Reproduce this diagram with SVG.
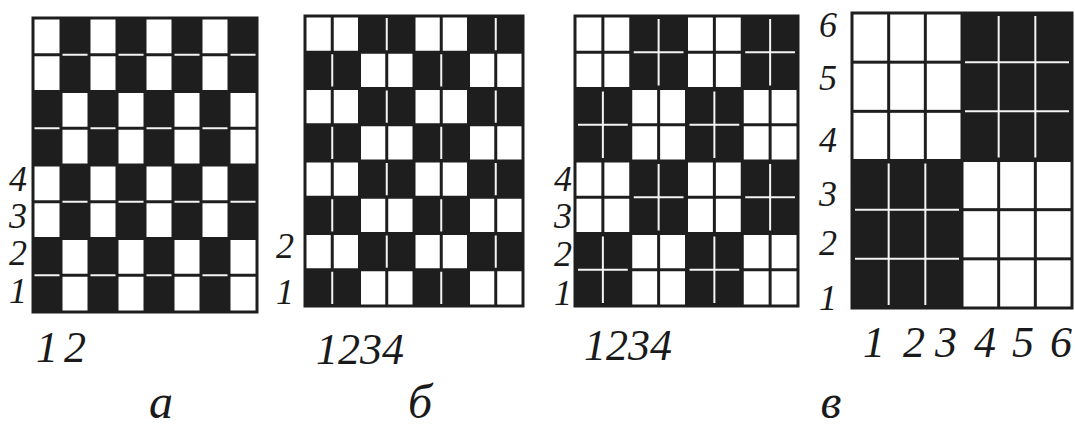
<svg xmlns="http://www.w3.org/2000/svg" width="1075" height="430" viewBox="0 0 1075 430">
<style>
.bg{fill:#1e1e1e;stroke:#1e1e1e;stroke-width:3}
.w{fill:#ffffff}
.wl{fill:none;stroke:#f4f4f4;stroke-width:2}
text{font-family:"Liberation Serif","Times New Roman",serif;font-style:italic;fill:#1a1a1a}
.n{font-size:44px}
.s{font-size:36px;text-anchor:middle}
.m{font-size:44px;text-anchor:middle}
.cap{font-size:48px;text-anchor:middle}
</style>
<rect width="1075" height="430" fill="#ffffff"/>

<g id="panel-a">
<rect class="bg" x="33" y="18" width="224" height="294"/>
<g id="a-cells">
<rect class="w" x="34.5" y="19.5" width="25" height="33.75"/><rect class="w" x="90.5" y="19.5" width="25" height="33.75"/><rect class="w" x="146.5" y="19.5" width="25" height="33.75"/><rect class="w" x="202.5" y="19.5" width="25" height="33.75"/>
<rect class="w" x="34.5" y="56.25" width="25" height="33.75"/><rect class="w" x="90.5" y="56.25" width="25" height="33.75"/><rect class="w" x="146.5" y="56.25" width="25" height="33.75"/><rect class="w" x="202.5" y="56.25" width="25" height="33.75"/>
<rect class="w" x="62.5" y="93" width="25" height="33.75"/><rect class="w" x="118.5" y="93" width="25" height="33.75"/><rect class="w" x="174.5" y="93" width="25" height="33.75"/><rect class="w" x="230.5" y="93" width="25" height="33.75"/>
<rect class="w" x="62.5" y="129.75" width="25" height="33.75"/><rect class="w" x="118.5" y="129.75" width="25" height="33.75"/><rect class="w" x="174.5" y="129.75" width="25" height="33.75"/><rect class="w" x="230.5" y="129.75" width="25" height="33.75"/>
<rect class="w" x="34.5" y="166.5" width="25" height="33.75"/><rect class="w" x="90.5" y="166.5" width="25" height="33.75"/><rect class="w" x="146.5" y="166.5" width="25" height="33.75"/><rect class="w" x="202.5" y="166.5" width="25" height="33.75"/>
<rect class="w" x="34.5" y="203.25" width="25" height="33.75"/><rect class="w" x="90.5" y="203.25" width="25" height="33.75"/><rect class="w" x="146.5" y="203.25" width="25" height="33.75"/><rect class="w" x="202.5" y="203.25" width="25" height="33.75"/>
<rect class="w" x="62.5" y="240" width="25" height="33.75"/><rect class="w" x="118.5" y="240" width="25" height="33.75"/><rect class="w" x="174.5" y="240" width="25" height="33.75"/><rect class="w" x="230.5" y="240" width="25" height="33.75"/>
<rect class="w" x="62.5" y="276.75" width="25" height="33.75"/><rect class="w" x="118.5" y="276.75" width="25" height="33.75"/><rect class="w" x="174.5" y="276.75" width="25" height="33.75"/><rect class="w" x="230.5" y="276.75" width="25" height="33.75"/>
</g>
<path class="wl" d="M62.5 54.75H87.5M118.5 54.75H143.5M174.5 54.75H199.5M230.5 54.75H255.5M34.5 128.25H59.5M90.5 128.25H115.5M146.5 128.25H171.5M202.5 128.25H227.5M62.5 201.75H87.5M118.5 201.75H143.5M174.5 201.75H199.5M230.5 201.75H255.5M34.5 275.25H59.5M90.5 275.25H115.5M146.5 275.25H171.5M202.5 275.25H227.5"/>
<text class="s" x="18" y="191">4</text>
<text class="s" x="18" y="228">3</text>
<text class="s" x="18" y="265">2</text>
<text class="s" x="18" y="303">1</text>
<text class="m" x="47" y="362">1</text>
<text class="m" x="75" y="362">2</text>
<text class="cap" x="161" y="418">a</text>
</g>

<g id="panel-b">
<rect class="bg" x="305" y="16" width="218" height="290"/>
<g id="b-cells">
<rect class="w" x="306.5" y="17.5" width="24.25" height="33.25"/><rect class="w" x="333.75" y="17.5" width="24.25" height="33.25"/><rect class="w" x="415.5" y="17.5" width="24.25" height="33.25"/><rect class="w" x="442.75" y="17.5" width="24.25" height="33.25"/>
<rect class="w" x="361" y="53.75" width="24.25" height="33.25"/><rect class="w" x="388.25" y="53.75" width="24.25" height="33.25"/><rect class="w" x="470" y="53.75" width="24.25" height="33.25"/><rect class="w" x="497.25" y="53.75" width="24.25" height="33.25"/>
<rect class="w" x="306.5" y="90" width="24.25" height="33.25"/><rect class="w" x="333.75" y="90" width="24.25" height="33.25"/><rect class="w" x="415.5" y="90" width="24.25" height="33.25"/><rect class="w" x="442.75" y="90" width="24.25" height="33.25"/>
<rect class="w" x="361" y="126.25" width="24.25" height="33.25"/><rect class="w" x="388.25" y="126.25" width="24.25" height="33.25"/><rect class="w" x="470" y="126.25" width="24.25" height="33.25"/><rect class="w" x="497.25" y="126.25" width="24.25" height="33.25"/>
<rect class="w" x="306.5" y="162.5" width="24.25" height="33.25"/><rect class="w" x="333.75" y="162.5" width="24.25" height="33.25"/><rect class="w" x="415.5" y="162.5" width="24.25" height="33.25"/><rect class="w" x="442.75" y="162.5" width="24.25" height="33.25"/>
<rect class="w" x="361" y="198.75" width="24.25" height="33.25"/><rect class="w" x="388.25" y="198.75" width="24.25" height="33.25"/><rect class="w" x="470" y="198.75" width="24.25" height="33.25"/><rect class="w" x="497.25" y="198.75" width="24.25" height="33.25"/>
<rect class="w" x="306.5" y="235" width="24.25" height="33.25"/><rect class="w" x="333.75" y="235" width="24.25" height="33.25"/><rect class="w" x="415.5" y="235" width="24.25" height="33.25"/><rect class="w" x="442.75" y="235" width="24.25" height="33.25"/>
<rect class="w" x="361" y="271.25" width="24.25" height="33.25"/><rect class="w" x="388.25" y="271.25" width="24.25" height="33.25"/><rect class="w" x="470" y="271.25" width="24.25" height="33.25"/><rect class="w" x="497.25" y="271.25" width="24.25" height="33.25"/>
</g>
<path class="wl" d="M386.75 18V50.25M495.75 18V50.25M386.75 90.5V122.75M495.75 90.5V122.75M386.75 163V195.25M495.75 163V195.25M386.75 235.5V267.75M495.75 235.5V267.75M332.25 54.25V86.5M441.25 54.25V86.5M332.25 126.75V159M441.25 126.75V159M332.25 199.25V231.5M441.25 199.25V231.5M332.25 271.75V304M441.25 271.75V304"/>
<text class="s" x="285" y="258">2</text>
<text class="s" x="285" y="304">1</text>
<text class="n" x="316" y="364">1234</text>
<text class="cap" x="420" y="418">б</text>
</g>

<g id="panel-c">
<rect class="bg" x="575" y="16" width="223" height="290"/>
<g id="c-cells">
<rect class="w" x="576.5" y="17.5" width="24.875" height="33.25"/><rect class="w" x="604.375" y="17.5" width="24.875" height="33.25"/><rect class="w" x="688" y="17.5" width="24.875" height="33.25"/><rect class="w" x="715.875" y="17.5" width="24.875" height="33.25"/>
<rect class="w" x="576.5" y="53.75" width="24.875" height="33.25"/><rect class="w" x="604.375" y="53.75" width="24.875" height="33.25"/><rect class="w" x="688" y="53.75" width="24.875" height="33.25"/><rect class="w" x="715.875" y="53.75" width="24.875" height="33.25"/>
<rect class="w" x="632.25" y="90" width="24.875" height="33.25"/><rect class="w" x="660.125" y="90" width="24.875" height="33.25"/><rect class="w" x="743.75" y="90" width="24.875" height="33.25"/><rect class="w" x="771.625" y="90" width="24.875" height="33.25"/>
<rect class="w" x="632.25" y="126.25" width="24.875" height="33.25"/><rect class="w" x="660.125" y="126.25" width="24.875" height="33.25"/><rect class="w" x="743.75" y="126.25" width="24.875" height="33.25"/><rect class="w" x="771.625" y="126.25" width="24.875" height="33.25"/>
<rect class="w" x="576.5" y="162.5" width="24.875" height="33.25"/><rect class="w" x="604.375" y="162.5" width="24.875" height="33.25"/><rect class="w" x="688" y="162.5" width="24.875" height="33.25"/><rect class="w" x="715.875" y="162.5" width="24.875" height="33.25"/>
<rect class="w" x="576.5" y="198.75" width="24.875" height="33.25"/><rect class="w" x="604.375" y="198.75" width="24.875" height="33.25"/><rect class="w" x="688" y="198.75" width="24.875" height="33.25"/><rect class="w" x="715.875" y="198.75" width="24.875" height="33.25"/>
<rect class="w" x="632.25" y="235" width="24.875" height="33.25"/><rect class="w" x="660.125" y="235" width="24.875" height="33.25"/><rect class="w" x="743.75" y="235" width="24.875" height="33.25"/><rect class="w" x="771.625" y="235" width="24.875" height="33.25"/>
<rect class="w" x="632.25" y="271.25" width="24.875" height="33.25"/><rect class="w" x="660.125" y="271.25" width="24.875" height="33.25"/><rect class="w" x="743.75" y="271.25" width="24.875" height="33.25"/><rect class="w" x="771.625" y="271.25" width="24.875" height="33.25"/>
</g>
<path class="wl" d="M633.75 52.25H683.5M658.625 19V85.5M745.25 52.25H795M770.125 19V85.5M578 124.75H627.75M602.875 91.5V158M689.5 124.75H739.25M714.375 91.5V158M633.75 197.25H683.5M658.625 164V230.5M745.25 197.25H795M770.125 164V230.5M578 269.75H627.75M602.875 236.5V303M689.5 269.75H739.25M714.375 236.5V303"/>
<text class="s" x="563" y="191">4</text>
<text class="s" x="563" y="228">3</text>
<text class="s" x="563" y="266">2</text>
<text class="s" x="563" y="305">1</text>
<text class="n" x="584" y="360">1234</text>
</g>

<g id="panel-d">
<rect class="bg" x="852" y="13" width="220" height="295"/>
<g id="d-cells">
<rect class="w" x="853.5" y="14.5" width="33.67" height="46.17"/><rect class="w" x="890.17" y="14.5" width="33.67" height="46.17"/><rect class="w" x="926.83" y="14.5" width="33.67" height="46.17"/>
<rect class="w" x="853.5" y="63.67" width="33.67" height="46.17"/><rect class="w" x="890.17" y="63.67" width="33.67" height="46.17"/><rect class="w" x="926.83" y="63.67" width="33.67" height="46.17"/>
<rect class="w" x="853.5" y="112.83" width="33.67" height="46.17"/><rect class="w" x="890.17" y="112.83" width="33.67" height="46.17"/><rect class="w" x="926.83" y="112.83" width="33.67" height="46.17"/>
<rect class="w" x="963.5" y="162" width="33.67" height="46.17"/><rect class="w" x="1000.17" y="162" width="33.67" height="46.17"/><rect class="w" x="1036.83" y="162" width="33.67" height="46.17"/>
<rect class="w" x="963.5" y="211.17" width="33.67" height="46.17"/><rect class="w" x="1000.17" y="211.17" width="33.67" height="46.17"/><rect class="w" x="1036.83" y="211.17" width="33.67" height="46.17"/>
<rect class="w" x="963.5" y="260.33" width="33.67" height="46.17"/><rect class="w" x="1000.17" y="260.33" width="33.67" height="46.17"/><rect class="w" x="1036.83" y="260.33" width="33.67" height="46.17"/>
</g>
<path class="wl" d="M998.67 16V157.5M1035.33 16V157.5M965 62.17H1069M965 111.33H1069M888.67 163.5V305M925.33 163.5V305M855 209.67H959M855 258.83H959"/>
<text class="s" x="828" y="37">6</text>
<text class="s" x="828" y="90">5</text>
<text class="s" x="828" y="152">4</text>
<text class="s" x="828" y="206">3</text>
<text class="s" x="828" y="255">2</text>
<text class="s" x="828" y="310">1</text>
<text class="m" x="874" y="357">1</text>
<text class="m" x="914" y="357">2</text>
<text class="m" x="946" y="357">3</text>
<text class="m" x="985" y="357">4</text>
<text class="m" x="1023" y="357">5</text>
<text class="m" x="1061" y="357">6</text>
<text class="cap" x="831" y="418">в</text>
</g>
</svg>
